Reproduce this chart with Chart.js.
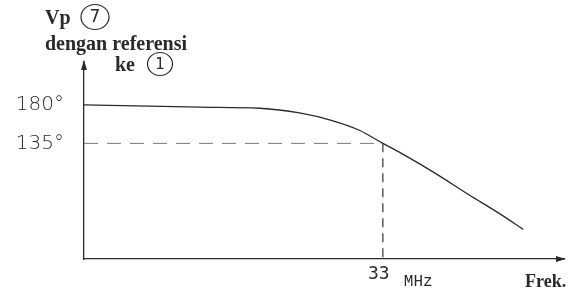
<!DOCTYPE html>
<html>
<head>
<meta charset="utf-8">
<script src="https://cdn.jsdelivr.net/npm/chart.js@4"></script>
<style>
  html, body { margin: 0; padding: 0; background: #fff; }
  #wrap { width: 569px; height: 291px; }
</style>
</head>
<body>
<div id="wrap"><canvas id="phase-chart" width="569" height="291"></canvas></div>
<script>
// phase of Vp(7) relative to (1) vs frequency
const freqMHz  = [0, 12.8, 19.4, 23.8, 27.4, 30.4, 33, 35.1, 38.8, 42.5, 46.1, 48.5];
const phaseDeg = [180, 177.3, 176, 170.5, 161.6, 150.3, 135, 123, 100, 75, 51.5, 34.5];

// dashed guides: 135 deg across, then down at 33 MHz
const guideHX = [0, 33];
const guideHY = [135, 135];
const guideVX = [33, 33];
const guideVY = [135, 0];

const yTicks = [135, 180];
const xTicks = [33];

const titleLines = ['Vp', 'dengan referensi', 'ke'];
const circled = ['7', '1'];
const xUnit = 'MHz';
const xName = 'Frek.';

const ink = '#2a2a2a';

function toPoints(xs, ys) {
    return xs.map((x, i) => ({ x: x, y: ys[i] }));
}

const sketchText = {
    id: 'sketchText',
    afterDraw(chart) {
        const ctx = chart.ctx;
        const area = chart.chartArea;
        const xs = chart.scales.x;
        ctx.save();
        ctx.fillStyle = ink;
        ctx.strokeStyle = ink;

        // arrow heads
        ctx.beginPath();
        ctx.moveTo(area.left - 3, area.top + 8);
        ctx.lineTo(area.left, area.top - 2);
        ctx.lineTo(area.left + 3, area.top + 8);
        ctx.closePath();
        ctx.fill();
        ctx.beginPath();
        ctx.moveTo(area.right - 8, area.bottom - 3);
        ctx.lineTo(area.right + 2, area.bottom);
        ctx.lineTo(area.right - 8, area.bottom + 3);
        ctx.closePath();
        ctx.fill();

        // title
        ctx.textBaseline = 'alphabetic';
        ctx.textAlign = 'left';
        ctx.font = 'bold 20px "Liberation Serif"';
        ctx.fillText(titleLines[0], 45, 24);
        ctx.fillText(titleLines[1], 45, 50);
        ctx.fillText(titleLines[2], 115, 71);

        ctx.lineWidth = 1.2;
        ctx.textAlign = 'center';
        ctx.textBaseline = 'middle';
        ctx.font = '17px "DejaVu Sans"';
        ctx.beginPath();
        ctx.ellipse(95, 17, 14, 12.5, 0, 0, Math.PI * 2);
        ctx.stroke();
        ctx.fillText(circled[0], 95, 18);
        ctx.beginPath();
        ctx.ellipse(160, 64, 12.5, 11.5, 0, 0, Math.PI * 2);
        ctx.stroke();
        ctx.font = '15px "DejaVu Sans"';
        ctx.fillText(circled[1], 160, 65);

        // axis unit and name
        ctx.textAlign = 'left';
        ctx.textBaseline = 'alphabetic';
        ctx.font = '16px "Liberation Mono"';
        ctx.fillText(xUnit, xs.getPixelForValue(xTicks[0]) + 21, 286);
        ctx.font = 'bold 18px "Liberation Serif"';
        ctx.fillText(xName, 525, 287);
        ctx.restore();
    }
};

new Chart(document.getElementById('phase-chart').getContext('2d'), {
    type: 'line',
    data: {
        datasets: [{
            data: toPoints(freqMHz, phaseDeg),
            borderColor: ink,
            borderWidth: 1.3,
            pointRadius: 0,
            cubicInterpolationMode: 'monotone',
            fill: false
        }, {
            data: toPoints(guideHX, guideHY),
            borderColor: '#777',
            borderWidth: 1,
            borderDash: [14, 9],
            pointRadius: 0,
            tension: 0,
            fill: false
        }, {
            data: toPoints(guideVX, guideVY),
            borderColor: '#333',
            borderWidth: 1.2,
            borderDash: [9, 6],
            pointRadius: 0,
            tension: 0,
            fill: false
        }]
    },
    options: {
        responsive: false,
        animation: false,
        layout: { padding: { top: 62, right: 5, left: 0, bottom: 0 } },
        plugins: {
            legend: { display: false },
            tooltip: { enabled: false }
        },
        scales: {
            x: {
                type: 'linear',
                min: 0,
                max: 53,
                grid: { display: false, drawTicks: false },
                border: { display: true, color: ink, width: 1.3 },
                afterBuildTicks: (s) => { s.ticks = xTicks.map(v => ({ value: v })); },
                afterFit: (s) => { s.height = 24; },
                ticks: {
                    padding: 5,
                    labelOffset: -4,
                    color: ink,
                    font: { family: '"DejaVu Sans Mono"', size: 18, weight: '300' },
                    callback: (v) => String(v)
                }
            },
            y: {
                min: 0,
                max: 230,
                grid: { display: false, drawTicks: false },
                border: { display: true, color: ink, width: 1.3 },
                afterBuildTicks: (s) => { s.ticks = yTicks.map(v => ({ value: v })); },
                afterFit: (s) => { s.width = 84; },
                ticks: {
                    padding: 20,
                    color: ink,
                    font: { family: '"DejaVu Sans"', size: 20, weight: '300' },
                    callback: (v) => v + '°'
                }
            }
        }
    },
    plugins: [sketchText]
});
</script>
</body>
</html>
